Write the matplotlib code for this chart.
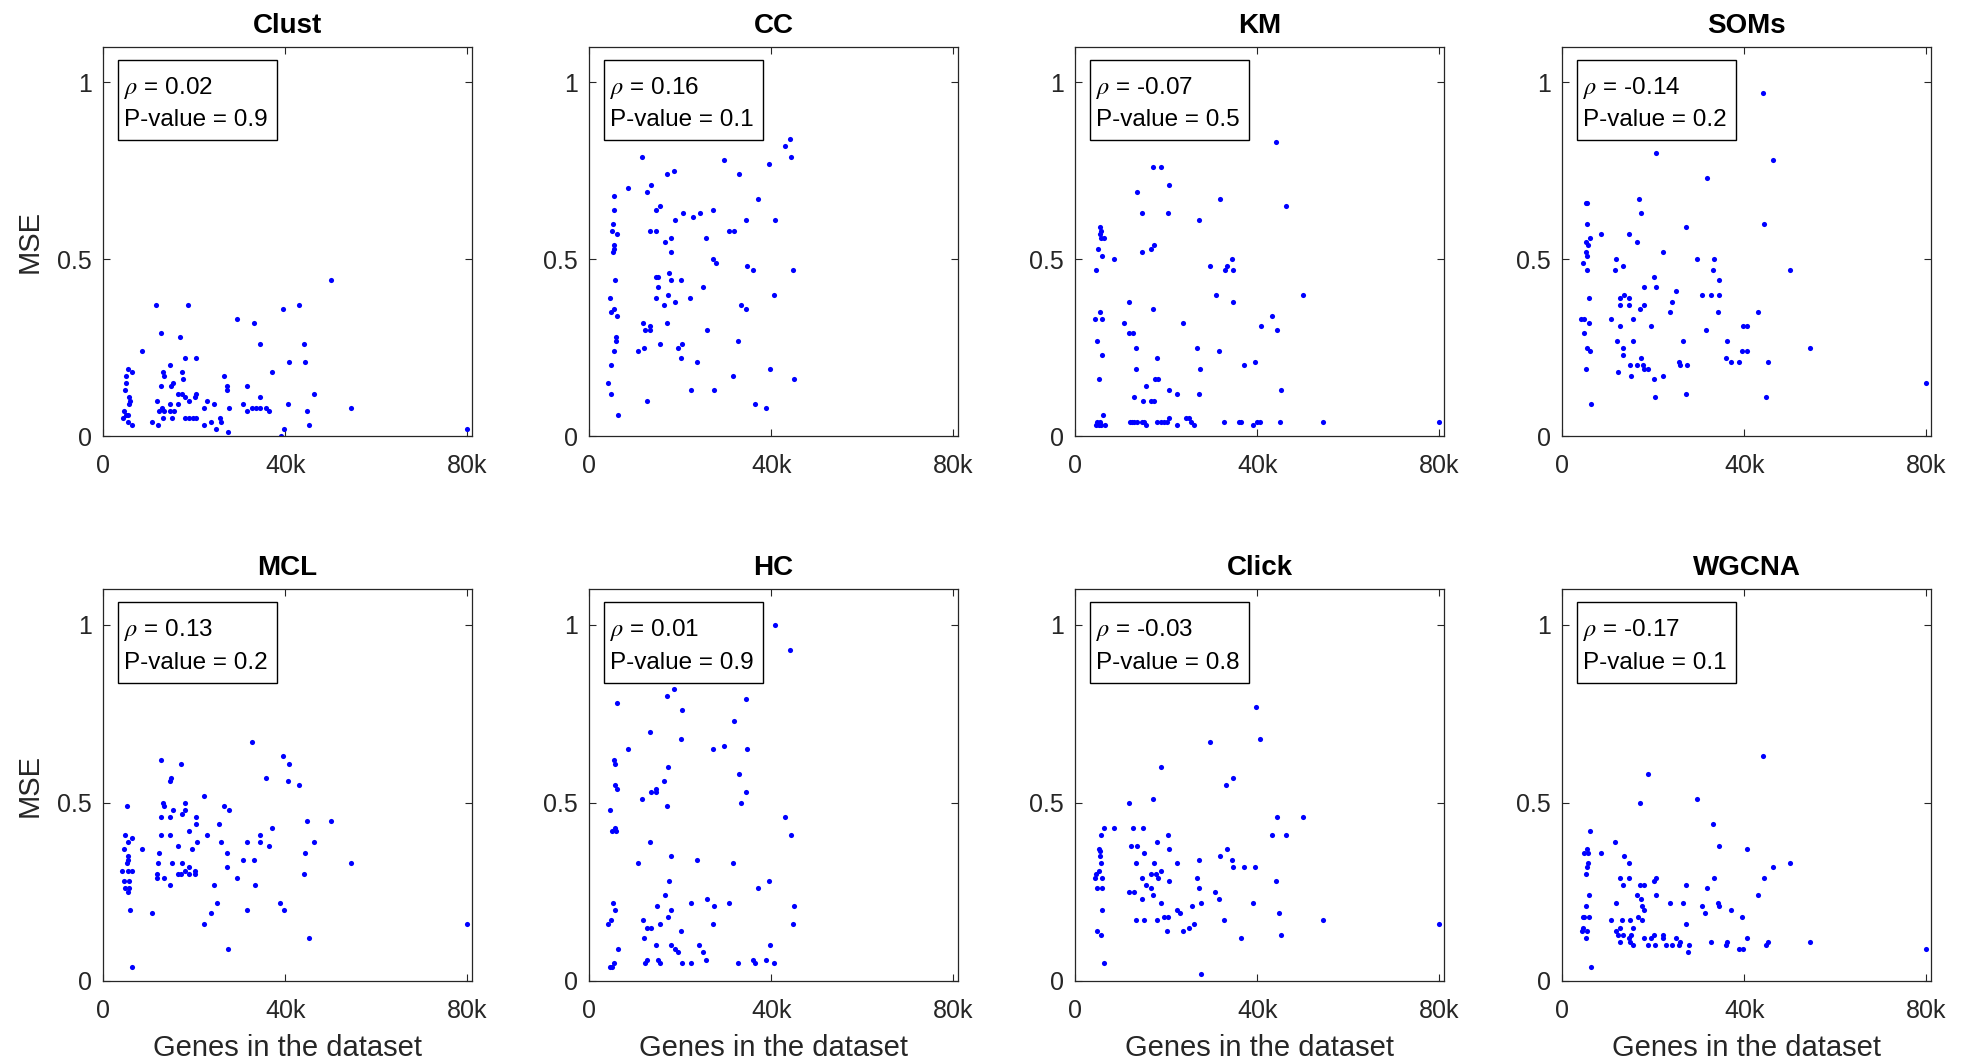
import numpy as np
import matplotlib
matplotlib.use("Agg")
import matplotlib.pyplot as plt
from matplotlib.patches import Rectangle

plt.rcParams['font.family'] = ['Liberation Sans', 'DejaVu Sans']
plt.rcParams['mathtext.fontset'] = 'stix'

# genes in the dataset (thousands) and MSE
clust_genes = [50.1, 11.7, 18.7, 39.5, 43.1, 29.5, 33.1, 12.8, 17.0, 34.5, 44.2, 8.6, 18.1, 20.5, 40.8, 44.3,
               14.8, 5.4, 5.1, 6.3, 13.1, 13.4, 17.3, 17.5, 37.0, 26.6, 5.0, 4.9, 12.8, 15.0, 15.4, 27.2,
               27.2, 31.7, 5.7, 6.0, 5.6, 16.5, 17.3, 18.1, 18.8, 20.5, 20.2, 11.8, 14.7, 16.5, 22.9, 24.3,
               22.2, 27.7, 34.5, 30.8, 31.5, 32.8, 33.5, 34.5, 35.8, 36.4, 40.7, 46.3, 44.8, 54.4, 12.2, 12.9,
               13.3, 14.7, 15.5, 4.3, 4.7, 5.5, 5.0, 13.2, 15.2, 17.9, 18.9, 19.7, 20.5, 25.6, 5.5, 6.4,
               10.8, 12.0, 22.2, 23.6, 26.0, 24.9, 27.5, 39.7, 45.2, 39.0, 80.0]
clust_mse = [0.44, 0.37, 0.37, 0.36, 0.37, 0.33, 0.32, 0.29, 0.28, 0.26, 0.26, 0.24, 0.22, 0.22, 0.21, 0.21,
             0.20, 0.19, 0.17, 0.18, 0.18, 0.17, 0.18, 0.16, 0.18, 0.17, 0.15, 0.13, 0.14, 0.14, 0.15, 0.14,
             0.13, 0.14, 0.11, 0.10, 0.09, 0.12, 0.12, 0.11, 0.10, 0.12, 0.11, 0.10, 0.09, 0.09, 0.10, 0.09,
             0.08, 0.08, 0.11, 0.09, 0.07, 0.08, 0.08, 0.08, 0.08, 0.07, 0.09, 0.12, 0.07, 0.08, 0.07, 0.08,
             0.07, 0.07, 0.07, 0.05, 0.07, 0.06, 0.06, 0.05, 0.05, 0.05, 0.05, 0.05, 0.05, 0.05, 0.04, 0.03,
             0.04, 0.03, 0.03, 0.04, 0.04, 0.02, 0.01, 0.02, 0.03, 0.0, 0.02]

cc_genes = [44.2, 43.1, 44.4, 11.7, 29.6, 39.6, 18.7, 17.1, 33.0, 13.5, 8.6, 12.7, 5.5, 37.0, 15.5, 14.7,
            5.5, 27.3, 20.6, 24.3, 22.9, 18.8, 34.5, 40.8, 5.3, 5.1, 13.3, 14.8, 30.8, 31.9, 6.2, 25.6,
            18.0, 16.6, 5.5, 5.5, 5.3, 17.9, 27.3, 27.8, 34.6, 36.0, 44.8, 17.5, 14.7, 15.1, 5.7, 18.1,
            20.3, 15.2, 25.0, 4.7, 14.7, 17.3, 22.2, 40.7, 18.8, 16.5, 33.3, 5.4, 34.4, 4.9, 6.1, 11.8,
            17.1, 12.3, 13.3, 13.3, 26.0, 5.9, 5.9, 32.6, 15.6, 20.4, 12.1, 19.5, 5.5, 10.8, 20.2, 23.7,
            4.9, 39.8, 31.5, 45.1, 4.2, 22.3, 27.5, 4.8, 12.8, 36.4, 38.9, 6.4]
cc_mse = [0.84, 0.82, 0.79, 0.79, 0.78, 0.77, 0.75, 0.74, 0.74, 0.71, 0.70, 0.69, 0.68, 0.67, 0.65, 0.64,
          0.64, 0.64, 0.63, 0.63, 0.62, 0.61, 0.61, 0.61, 0.60, 0.58, 0.58, 0.58, 0.58, 0.58, 0.57, 0.56,
          0.56, 0.55, 0.54, 0.53, 0.52, 0.52, 0.50, 0.49, 0.48, 0.47, 0.47, 0.46, 0.45, 0.45, 0.44, 0.44,
          0.44, 0.42, 0.42, 0.39, 0.39, 0.40, 0.39, 0.40, 0.38, 0.37, 0.37, 0.36, 0.36, 0.35, 0.34, 0.32,
          0.32, 0.30, 0.31, 0.30, 0.30, 0.28, 0.27, 0.27, 0.26, 0.26, 0.25, 0.25, 0.24, 0.24, 0.22, 0.21,
          0.20, 0.19, 0.17, 0.16, 0.15, 0.13, 0.13, 0.12, 0.10, 0.09, 0.08, 0.06]

km_genes = [44.2, 17.1, 18.8, 20.7, 13.5, 31.8, 46.4, 14.8, 20.4, 27.3, 5.4, 5.6, 5.5, 5.7, 6.3, 5.1,
            17.3, 16.6, 14.7, 5.9, 8.6, 34.4, 29.6, 33.4, 33.0, 34.7, 4.7, 30.9, 50.1, 11.8, 34.6, 17.2,
            5.5, 43.2, 4.4, 6.0, 10.8, 23.7, 40.9, 44.4, 11.9, 12.8, 4.9, 13.3, 26.7, 31.5, 6.0, 18.1,
            39.6, 37.1, 13.3, 27.5, 5.3, 17.5, 18.2, 15.5, 20.7, 45.3, 22.3, 27.3, 12.9, 15.0, 16.6, 17.4,
            6.2, 20.6, 24.3, 25.1, 12.0, 12.5, 13.0, 13.5, 14.8, 15.2, 17.9, 18.9, 19.6, 20.2, 25.4, 32.7,
            35.9, 36.5, 39.9, 40.7, 44.9, 54.5, 80.0, 4.9, 5.4, 4.7, 5.2, 5.7, 6.5, 15.6, 22.3, 26.1, 39.0]
km_mse = [0.83, 0.76, 0.76, 0.71, 0.69, 0.67, 0.65, 0.63, 0.63, 0.61, 0.59, 0.58, 0.57, 0.56, 0.56, 0.53,
          0.54, 0.53, 0.52, 0.51, 0.50, 0.50, 0.48, 0.48, 0.47, 0.47, 0.47, 0.40, 0.40, 0.38, 0.38, 0.36,
          0.35, 0.34, 0.33, 0.33, 0.32, 0.32, 0.31, 0.30, 0.29, 0.29, 0.27, 0.25, 0.25, 0.24, 0.23, 0.22,
          0.21, 0.20, 0.19, 0.19, 0.16, 0.16, 0.16, 0.14, 0.13, 0.13, 0.12, 0.12, 0.11, 0.10, 0.10, 0.10,
          0.06, 0.05, 0.05, 0.05, 0.04, 0.04, 0.04, 0.04, 0.04, 0.04, 0.04, 0.04, 0.04, 0.04, 0.04, 0.04,
          0.04, 0.04, 0.04, 0.04, 0.04, 0.04, 0.04, 0.04, 0.04, 0.03, 0.03, 0.03, 0.03, 0.03, 0.03, 0.03, 0.03]

soms_genes = [44.2, 20.6, 46.4, 31.8, 5.3, 5.5, 17.0, 17.3, 5.5, 44.3, 27.3, 8.6, 14.8, 6.2, 5.3, 5.8,
              16.5, 5.3, 22.2, 5.5, 11.8, 29.6, 33.3, 4.6, 13.3, 5.5, 11.7, 33.1, 50.0, 20.2, 34.4, 17.9,
              20.7, 25.0, 13.6, 30.8, 32.6, 34.5, 5.9, 12.8, 14.8, 24.2, 12.8, 14.7, 17.9, 17.1, 23.7, 34.3,
              43.0, 4.2, 4.9, 10.8, 15.5, 5.9, 12.7, 19.5, 39.7, 40.7, 31.5, 4.8, 12.0, 15.5, 26.6, 36.3,
              54.4, 5.5, 13.3, 6.1, 39.5, 40.7, 13.3, 17.4, 36.0, 25.6, 37.1, 38.9, 45.2, 14.9, 16.5, 17.7,
              25.9, 27.5, 5.3, 18.0, 18.8, 12.2, 15.2, 22.2, 20.1, 80.0, 27.2, 20.5, 44.8, 6.4]
soms_mse = [0.97, 0.80, 0.78, 0.73, 0.66, 0.66, 0.67, 0.63, 0.60, 0.60, 0.59, 0.57, 0.57, 0.56, 0.55, 0.54,
            0.55, 0.52, 0.52, 0.51, 0.50, 0.50, 0.50, 0.49, 0.48, 0.47, 0.47, 0.47, 0.47, 0.45, 0.44, 0.42,
            0.42, 0.41, 0.40, 0.40, 0.40, 0.40, 0.39, 0.39, 0.39, 0.38, 0.37, 0.37, 0.37, 0.36, 0.35, 0.35,
            0.35, 0.33, 0.33, 0.33, 0.33, 0.32, 0.31, 0.31, 0.31, 0.31, 0.30, 0.29, 0.27, 0.27, 0.27, 0.27,
            0.25, 0.25, 0.25, 0.24, 0.24, 0.24, 0.23, 0.22, 0.22, 0.21, 0.21, 0.21, 0.21, 0.20, 0.20, 0.20,
            0.20, 0.20, 0.19, 0.19, 0.19, 0.18, 0.17, 0.17, 0.16, 0.15, 0.12, 0.11, 0.11, 0.09]

mcl_genes = [32.6, 39.5, 40.8, 12.8, 17.1, 35.8, 15.0, 14.8, 40.7, 43.1, 22.1, 13.1, 18.0, 13.3, 5.2, 26.6,
             15.4, 17.9, 27.7, 17.4, 12.8, 14.8, 20.5, 44.8, 50.0, 20.5, 25.5, 37.0, 18.8, 4.9, 12.8, 14.8,
             22.9, 34.5, 6.3, 5.4, 20.6, 26.0, 31.7, 34.4, 46.4, 16.5, 36.4, 4.6, 8.6, 19.5, 12.3, 27.2,
             44.3, 5.5, 5.4, 30.8, 33.1, 5.2, 12.0, 15.2, 17.3, 54.4, 27.3, 18.8, 4.2, 5.4, 6.3, 18.0,
             20.2, 11.8, 16.5, 17.1, 18.8, 20.3, 44.2, 11.8, 13.3, 29.5, 4.7, 5.8, 14.7, 24.3, 33.3, 4.8,
             5.6, 5.5, 25.0, 38.9, 5.9, 31.5, 39.7, 10.8, 23.6, 22.2, 79.9, 45.2, 27.5, 6.4]
mcl_mse = [0.67, 0.63, 0.61, 0.62, 0.61, 0.57, 0.57, 0.56, 0.56, 0.55, 0.52, 0.50, 0.50, 0.49, 0.49, 0.49,
           0.48, 0.48, 0.48, 0.47, 0.46, 0.46, 0.46, 0.45, 0.45, 0.44, 0.44, 0.43, 0.42, 0.41, 0.41, 0.41,
           0.41, 0.41, 0.40, 0.39, 0.39, 0.39, 0.39, 0.39, 0.39, 0.38, 0.38, 0.37, 0.37, 0.37, 0.36, 0.36,
           0.36, 0.35, 0.34, 0.34, 0.34, 0.33, 0.33, 0.33, 0.33, 0.33, 0.32, 0.32, 0.31, 0.31, 0.31, 0.31,
           0.31, 0.30, 0.30, 0.30, 0.30, 0.30, 0.30, 0.29, 0.29, 0.29, 0.28, 0.28, 0.27, 0.27, 0.27, 0.26,
           0.26, 0.25, 0.22, 0.22, 0.20, 0.20, 0.20, 0.19, 0.19, 0.16, 0.16, 0.12, 0.09, 0.04]

hc_genes = [40.8, 44.2, 18.7, 17.1, 34.5, 6.2, 20.5, 31.8, 13.3, 20.3, 8.6, 27.3, 34.6, 29.6, 5.4, 5.6,
            17.3, 33.0, 16.5, 5.7, 6.1, 14.8, 13.5, 14.7, 34.4, 11.7, 17.1, 33.3, 4.7, 43.1, 5.1, 5.7,
            5.9, 44.3, 13.3, 18.0, 23.7, 10.8, 31.5, 17.6, 39.6, 37.1, 16.6, 26.0, 5.3, 22.3, 30.8, 15.0,
            27.5, 45.1, 5.6, 18.1, 17.4, 11.8, 4.8, 4.2, 15.5, 27.3, 44.8, 12.7, 13.5, 20.2, 12.1, 14.8,
            17.9, 24.2, 39.8, 6.4, 18.8, 19.6, 25.0, 12.8, 15.2, 25.6, 36.0, 38.9, 5.4, 12.3, 15.6, 20.5,
            22.3, 32.7, 36.4, 40.7, 4.7, 5.1]
hc_mse = [1.00, 0.93, 0.82, 0.80, 0.79, 0.78, 0.76, 0.73, 0.70, 0.68, 0.65, 0.65, 0.65, 0.66, 0.62, 0.61,
          0.60, 0.58, 0.56, 0.55, 0.54, 0.54, 0.53, 0.53, 0.53, 0.51, 0.49, 0.50, 0.48, 0.46, 0.42, 0.43,
          0.42, 0.41, 0.39, 0.35, 0.34, 0.33, 0.33, 0.28, 0.28, 0.26, 0.24, 0.23, 0.22, 0.22, 0.22, 0.21,
          0.21, 0.21, 0.20, 0.20, 0.18, 0.17, 0.17, 0.16, 0.16, 0.16, 0.16, 0.15, 0.15, 0.14, 0.12, 0.10,
          0.10, 0.10, 0.10, 0.09, 0.09, 0.08, 0.08, 0.06, 0.06, 0.06, 0.06, 0.06, 0.05, 0.05, 0.05, 0.05,
          0.05, 0.05, 0.05, 0.05, 0.04, 0.04]

click_genes = [39.8, 40.7, 29.6, 18.8, 34.6, 33.1, 11.8, 17.1, 44.4, 50.1, 6.4, 8.6, 12.8, 14.9, 5.6, 20.4,
               43.2, 46.4, 18.1, 12.3, 13.6, 5.3, 5.4, 20.7, 33.4, 15.1, 5.5, 31.8, 5.6, 13.3, 17.4, 22.3,
               27.3, 34.4, 34.7, 37.1, 39.6, 5.3, 18.9, 4.7, 16.6, 17.7, 4.3, 6.0, 14.7, 18.2, 26.7, 20.7,
               44.2, 15.5, 4.9, 5.9, 16.6, 27.3, 11.9, 12.9, 30.8, 17.2, 14.8, 31.5, 18.9, 27.7, 39.0, 25.6,
               6.0, 22.3, 23.0, 44.8, 19.6, 20.5, 13.3, 15.2, 18.0, 32.7, 54.5, 26.1, 80.0, 25.1, 4.9, 20.3,
               23.7, 5.6, 45.3, 36.5, 6.4, 27.6]
click_mse = [0.77, 0.68, 0.67, 0.60, 0.57, 0.55, 0.50, 0.51, 0.46, 0.46, 0.43, 0.43, 0.43, 0.43, 0.41, 0.41,
             0.41, 0.41, 0.39, 0.38, 0.38, 0.37, 0.365, 0.37, 0.37, 0.36, 0.35, 0.35, 0.33, 0.33, 0.33, 0.33,
             0.34, 0.34, 0.32, 0.32, 0.32, 0.31, 0.31, 0.30, 0.30, 0.30, 0.29, 0.29, 0.29, 0.29, 0.29, 0.28,
             0.28, 0.27, 0.26, 0.26, 0.26, 0.26, 0.25, 0.25, 0.25, 0.24, 0.23, 0.23, 0.22, 0.22, 0.22, 0.21,
             0.20, 0.20, 0.19, 0.19, 0.18, 0.18, 0.17, 0.17, 0.17, 0.17, 0.17, 0.16, 0.16, 0.15, 0.14, 0.14,
             0.14, 0.13, 0.13, 0.12, 0.05, 0.02]

wgcna_genes = [44.2, 18.8, 17.1, 29.6, 33.1, 6.2, 11.7, 34.4, 4.9, 5.5, 5.6, 8.6, 40.7, 13.5, 5.6, 14.8,
               50.0, 5.5, 46.4, 5.3, 12.7, 14.7, 33.3, 44.3, 20.3, 20.7, 13.3, 17.1, 17.9, 27.3, 31.8, 5.9,
               16.5, 20.7, 43.0, 17.3, 11.8, 23.7, 26.6, 34.3, 34.5, 5.3, 17.6, 30.8, 17.9, 37.1, 31.4, 4.5,
               4.9, 6.0, 16.6, 39.5, 10.8, 13.2, 15.0, 17.5, 27.2, 4.6, 12.8, 15.5, 4.3, 5.5, 11.9, 13.3,
               12.2, 15.2, 20.1, 22.2, 5.3, 14.7, 17.9, 19.6, 22.2, 25.1, 40.7, 12.8, 15.0, 25.9, 32.6, 36.3,
               45.2, 54.4, 15.6, 18.8, 20.5, 22.9, 24.2, 25.6, 27.8, 36.0, 44.8, 38.8, 39.8, 80.0, 27.6, 6.4]
wgcna_mse = [0.63, 0.58, 0.50, 0.51, 0.44, 0.42, 0.39, 0.38, 0.36, 0.37, 0.36, 0.36, 0.37, 0.35, 0.33, 0.33,
             0.33, 0.32, 0.32, 0.30, 0.29, 0.29, 0.29, 0.29, 0.28, 0.29, 0.27, 0.27, 0.27, 0.27, 0.26, 0.24,
             0.24, 0.24, 0.24, 0.23, 0.22, 0.22, 0.22, 0.22, 0.21, 0.21, 0.21, 0.21, 0.20, 0.20, 0.19, 0.18,
             0.18, 0.18, 0.18, 0.18, 0.17, 0.17, 0.17, 0.17, 0.16, 0.15, 0.15, 0.15, 0.14, 0.14, 0.14, 0.13,
             0.13, 0.13, 0.13, 0.13, 0.12, 0.12, 0.12, 0.12, 0.12, 0.12, 0.12, 0.11, 0.11, 0.11, 0.11, 0.11,
             0.11, 0.11, 0.10, 0.10, 0.10, 0.10, 0.10, 0.10, 0.10, 0.10, 0.10, 0.09, 0.09, 0.09, 0.08, 0.04]

methods = ['Clust', 'CC', 'KM', 'SOMs', 'MCL', 'HC', 'Click', 'WGCNA']
rho_vals = ['0.02', '0.16', '-0.07', '-0.14', '0.13', '0.01', '-0.03', '-0.17']
p_vals = ['0.9', '0.1', '0.5', '0.2', '0.2', '0.9', '0.8', '0.1']
genes_all = [clust_genes, cc_genes, km_genes, soms_genes, mcl_genes, hc_genes, click_genes, wgcna_genes]
mse_all = [clust_mse, cc_mse, km_mse, soms_mse, mcl_mse, hc_mse, click_mse, wgcna_mse]

x_ticks = [0, 40000, 80000]
x_tick_labels = ['0', '40k', '80k']
y_ticks = [0, 0.5, 1]
y_tick_labels = ['0', '0.5', '1']

W, H = 1969, 1064
fig = plt.figure(figsize=(W / 100, H / 100), dpi=100)
fig.patch.set_facecolor('white')

# panel placement in pixels
col_left = [103, 589, 1075, 1562]
row_top = [47, 589]
row_bot = [436, 981]
ax_w = 369
dark = '#262626'

for i, name in enumerate(methods):
    r, c = divmod(i, 4)
    ax = fig.add_axes([col_left[c] / W, 1 - row_bot[r] / H, ax_w / W, (row_bot[r] - row_top[r]) / H])
    gx = np.array(genes_all[i]) * 1000
    gy = np.array(mse_all[i])
    ax.plot(gx, gy, 'o', color='#0000ff', ms=3.7, mew=0, linestyle='none')
    ax.set_xlim(0, 81000)
    ax.set_ylim(0, 1.1)
    ax.set_xticks(x_ticks)
    ax.set_xticklabels(x_tick_labels)
    ax.set_yticks(y_ticks)
    ax.set_yticklabels(y_tick_labels)
    ax.tick_params(direction='in', top=True, right=True, length=5, width=0.8,
                   labelsize=18, colors=dark, labelcolor=dark)
    ax.tick_params(axis='x', pad=13)
    ax.tick_params(axis='y', pad=8)
    for sp in ax.spines.values():
        sp.set_color(dark)
        sp.set_linewidth(0.9)
    ax.set_title(name, fontsize=20, fontweight='bold', pad=10)
    # stats box
    ax.add_patch(Rectangle((0.0405, 0.761), 0.432, 0.205, transform=ax.transAxes,
                           fill=False, edgecolor='black', lw=1.0, zorder=5))
    ax.text(0.058, 0.895, r'$\rho$ = ' + rho_vals[i], transform=ax.transAxes,
            fontsize=17.5, va='center', ha='left', color='black')
    ax.text(0.058, 0.812, 'P-value = ' + p_vals[i], transform=ax.transAxes,
            fontsize=17.5, va='center', ha='left', color='black')
    if c == 0:
        ax.set_ylabel('MSE', fontsize=21, color=dark, labelpad=10)
    if r == 1:
        ax.set_xlabel('Genes in the dataset', fontsize=21, color=dark, labelpad=8)

fig.savefig('out.png', dpi=100)
